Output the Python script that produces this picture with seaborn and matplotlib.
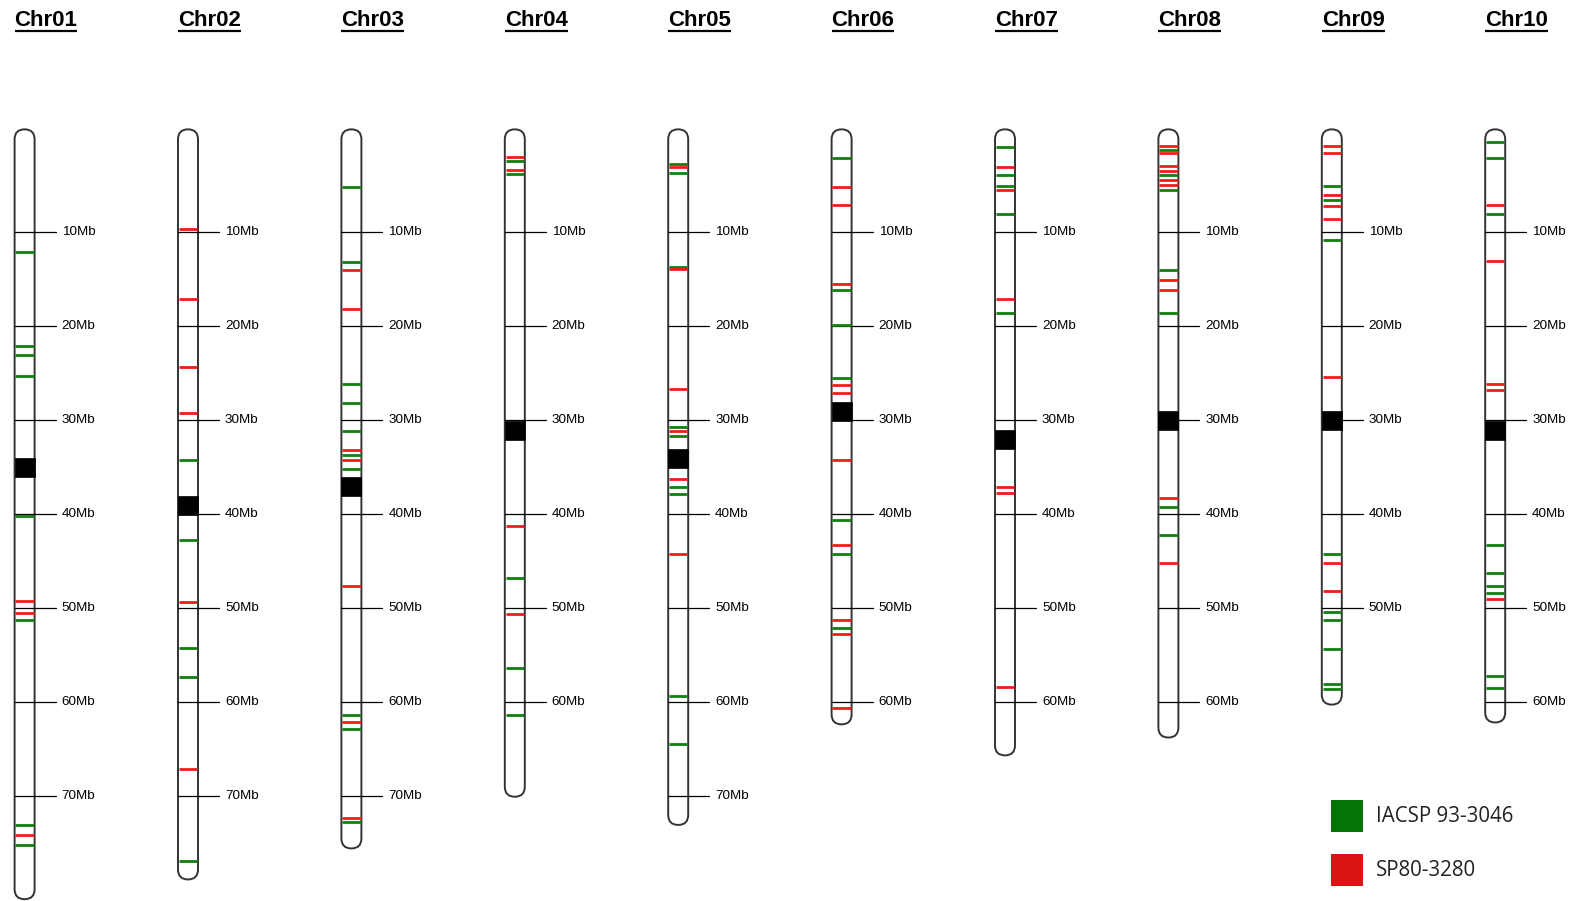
import matplotlib
matplotlib.use("Agg")
import matplotlib.pyplot as plt
from matplotlib.patches import FancyBboxPatch, Rectangle
import seaborn as sns
import pandas as pd

# chromosome data (Mb)
chroms = ["Chr01", "Chr02", "Chr03", "Chr04", "Chr05",
          "Chr06", "Chr07", "Chr08", "Chr09", "Chr10"]
lengths = [80.1, 78.0, 74.7, 69.2, 72.2, 61.5, 64.8, 62.9, 59.4, 61.3]
centromeres = [34.1, 38.1, 36.1, 30.1, 33.1, 28.1, 31.1, 29.1, 29.1, 30.1]
cen_size = 2.0

green_pos = [
    [12.2, 22.2, 23.1, 25.3, 40.2, 51.3, 73.1, 75.2],
    [34.3, 42.8, 54.3, 57.4, 76.9],
    [5.2, 13.2, 26.2, 28.2, 31.2, 33.7, 35.2, 61.4, 62.9, 72.8],
    [2.5, 3.8, 46.8, 56.4, 61.4],
    [2.8, 3.7, 13.7, 30.8, 31.7, 37.2, 37.9, 59.4, 64.5],
    [2.1, 16.2, 19.9, 25.6, 40.7, 44.3, 52.1],
    [1.0, 4.0, 5.1, 8.1, 18.6],
    [1.3, 4.0, 5.6, 14.1, 18.6, 39.3, 42.3],
    [5.1, 6.6, 10.9, 44.3, 50.4, 51.3, 54.4, 58.1, 58.6],
    [0.4, 2.1, 8.1, 43.3, 46.3, 47.7, 48.4, 57.3, 58.5],
]
red_pos = [
    [49.3, 50.6, 74.2],
    [9.7, 17.2, 24.4, 29.3, 49.4, 67.1],
    [14.1, 18.2, 33.2, 34.3, 47.7, 62.1, 72.4],
    [2.0, 3.4, 41.3, 50.7],
    [3.1, 14.0, 26.7, 31.2, 36.3, 44.3],
    [5.2, 7.2, 15.5, 26.3, 27.2, 34.3, 43.3, 51.3, 52.8, 60.7],
    [3.1, 5.6, 17.1, 37.1, 37.8, 58.4],
    [0.9, 1.6, 3.0, 3.5, 4.5, 5.0, 15.1, 16.2, 38.3, 45.2],
    [0.9, 1.6, 6.1, 7.3, 8.6, 25.4, 45.2, 48.2],
    [7.1, 13.1, 26.2, 26.8, 49.1],
]
legend_labels = ["IACSP 93-3046", "SP80-3280"]
tick_step = 10

# layout in pixels
W, H = 1572, 901
PPM = 9.40        # pixels per Mb
Y0 = 137.8        # pixel row of 0 Mb
X0, DX = 24.6, 163.4
HALF = 10.0       # half chromosome width (px)


def px(v):
    return v / PPM


sns.set_theme(style="white")
fig = plt.figure(figsize=(W / 100, H / 100), dpi=100)
ax = fig.add_axes([0, 0, 1, 1])

green_c, red_c = "#118011", "#f01c1c"

rows = []
for i, name in enumerate(chroms):
    cx = px(X0 + i * DX)
    L = lengths[i]
    cap = px(HALF)
    body = FancyBboxPatch((cx - px(HALF), -0.9), 2 * px(HALF), L + 1.8,
                          boxstyle=f"round,pad=0,rounding_size={cap}",
                          fc="white", ec="#333333", lw=1.4, zorder=1)
    ax.add_patch(body)
    # ticks
    t = tick_step
    while t <= L - 1:
        ax.plot([cx - px(HALF), cx + px(31)], [t, t], color="black", lw=0.9, zorder=3)
        ax.text(cx + px(37), t, f"{t}Mb", ha="left", va="center", fontsize=9.7,
                family="Liberation Sans", color="black")
        t += tick_step
    # centromere
    ax.add_patch(Rectangle((cx - px(HALF), centromeres[i]), 2 * px(HALF), cen_size,
                           fc="black", ec="black", lw=0.5, zorder=4))
    for p in green_pos[i]:
        rows.append({"x": cx, "pos": p, "line": legend_labels[0]})
    for p in red_pos[i]:
        rows.append({"x": cx, "pos": p, "line": legend_labels[1]})
    # title
    ax.text(cx - px(HALF), px(20 - Y0), name, ha="left", va="center",
            fontsize=16, fontweight="bold", family="Liberation Sans", color="black")

markers = pd.DataFrame(rows)
sns.scatterplot(data=markers, x="x", y="pos", hue="line",
                palette={legend_labels[0]: green_c, legend_labels[1]: red_c},
                marker="_", s=175, linewidth=2.0, legend=False, ax=ax, zorder=5)
ax.set_xlim(0, px(W))
ax.set_ylim(px(H - Y0), px(-Y0))
ax.set_axis_off()

# underline titles
fig.canvas.draw()
r = fig.canvas.get_renderer()
inv = ax.transData.inverted()
for t in list(ax.texts):
    if t.get_text().startswith("Chr"):
        bb = t.get_window_extent(r)
        (x0, _), (x1, _) = inv.transform([(bb.x0, 0), (bb.x1, 0)])
        ax.plot([x0, x1], [px(31 - Y0), px(31 - Y0)], color="black", lw=1.6,
                solid_capstyle="butt")

# legend
leg_cols = ["#047404", "#d91515"]
for k, (lab, c) in enumerate(zip(legend_labels, leg_cols)):
    top = 800 + k * 54
    ax.add_patch(Rectangle((px(1331), px(top - Y0)), px(32), px(32),
                           fc=c, ec="none", zorder=5))
    ax.text(px(1376), px(top + 16 - Y0), lab, ha="left", va="center",
            fontsize=14.8, family="Open Sans", color="#222222")

fig.savefig("out.png", dpi=100)
